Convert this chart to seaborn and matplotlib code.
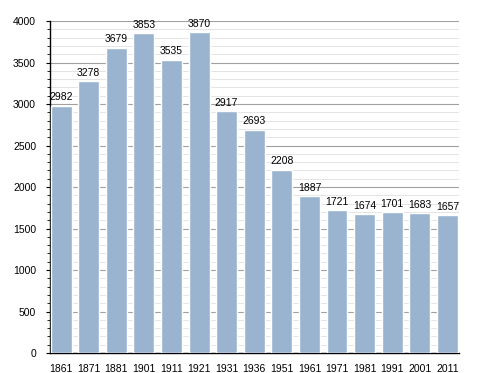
import matplotlib
matplotlib.use("Agg")
import matplotlib.pyplot as plt
import seaborn as sns
import pandas as pd
from matplotlib.ticker import MultipleLocator

# Dados: população por ano de recenseamento
anos = ["1861", "1871", "1881", "1901", "1911", "1921", "1931", "1936",
        "1951", "1961", "1971", "1981", "1991", "2001", "2011"]
populacao = [2982, 3278, 3679, 3853, 3535, 3870, 2917, 2693,
             2208, 1887, 1721, 1674, 1701, 1683, 1657]

df = pd.DataFrame({"ano": anos, "pop": populacao})

sns.set_theme(style="white")
plt.rcParams['font.family'] = ['Liberation Sans', 'DejaVu Sans']
plt.rcParams['text.color'] = 'black'
plt.rcParams['xtick.color'] = 'black'
plt.rcParams['ytick.color'] = 'black'

fig = plt.figure(figsize=(4.88, 3.73), dpi=100)
ax = fig.add_axes([0.1025, 0.0536, 0.838, 0.890])

sns.barplot(data=df, x="ano", y="pop", color="#9AB4CF", saturation=1,
            width=0.76, ax=ax, zorder=3)

# grade principal e secundária
ax.set_ylim(0, 4000)
ax.set_xlim(-0.40, len(anos) - 0.58)
ax.yaxis.set_major_locator(MultipleLocator(500))
ax.yaxis.set_minor_locator(MultipleLocator(100))
ax.grid(axis="y", which="major", color="#A0A0A0", linewidth=0.8, zorder=0)
ax.grid(axis="y", which="minor", color="#E4E4E4", linewidth=0.7, zorder=0)
ax.set_axisbelow(True)

for side in ["top", "right"]:
    ax.spines[side].set_visible(False)
ax.spines["left"].set_color("black")
ax.spines["bottom"].set_color("black")
ax.spines["left"].set_linewidth(1.0)
ax.spines["bottom"].set_linewidth(1.0)

ax.tick_params(axis="y", which="major", left=True, length=3, width=0.8,
               labelsize=7.5, pad=7)
ax.tick_params(axis="y", which="minor", left=True, length=2, width=0.6)
ax.tick_params(axis="x", bottom=False, labelsize=7.5, pad=2)

# rótulos de valores
for i, v in enumerate(populacao):
    ax.text(i, v + 40, str(v), ha="center", va="bottom", fontsize=7.5)

ax.set_xlabel("")
ax.set_ylabel("")

fig.savefig("out.png", dpi=100)
